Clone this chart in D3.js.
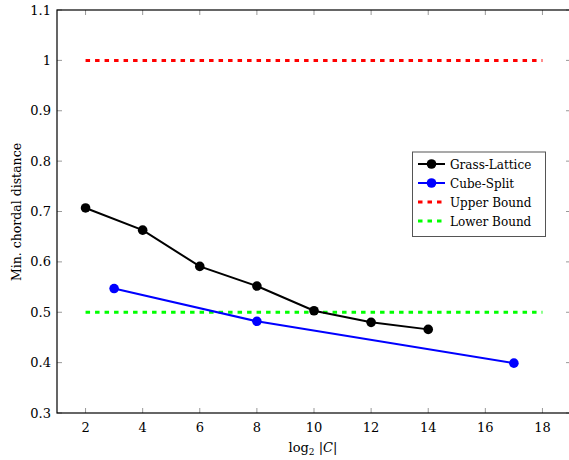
<!DOCTYPE html>
<html><head><meta charset="utf-8">
<script src="https://cdn.jsdelivr.net/npm/d3@7/dist/d3.min.js"></script>
<style>body{margin:0;background:#fff}svg{display:block}</style>
</head><body>
<svg id="c" width="569" height="460" font-family="'DejaVu Serif', serif"></svg>
<script>
const xTicks = [2,4,6,8,10,12,14,16,18];
const yTicks = [0.3,0.4,0.5,0.6,0.7,0.8,0.9,1,1.1];
const glX = [2,4,6,8,10,12,14];
const glY = [0.707,0.663,0.591,0.552,0.503,0.480,0.466];
const csX = [3,8,17];
const csY = [0.547,0.482,0.399];
const boundX = [2,18];
const upperY = [1,1];
const lowerY = [0.5,0.5];
const seriesNames = ["Grass-Lattice","Cube-Split","Upper Bound","Lower Bound"];

const svg = d3.select("#c");
const L=57, R=571, T=10, B=413;
const x = d3.scaleLinear().domain([1,19]).range([L,R]);
const y = d3.scaleLinear().domain([0.3,1.1]).range([B,T]);

const tk = svg.append("g").attr("stroke","#999").attr("stroke-width",1);
xTicks.forEach(v=>{
  tk.append("line").attr("x1",x(v)).attr("x2",x(v)).attr("y1",B).attr("y2",B-5);
  tk.append("line").attr("x1",x(v)).attr("x2",x(v)).attr("y1",T).attr("y2",T+5);
});
yTicks.forEach(v=>{
  tk.append("line").attr("x1",L).attr("x2",L+5).attr("y1",y(v)).attr("y2",y(v));
  tk.append("line").attr("x1",R).attr("x2",R-5).attr("y1",y(v)).attr("y2",y(v));
});
svg.append("rect").attr("x",L).attr("y",T).attr("width",R-L).attr("height",B-T)
  .attr("fill","none").attr("stroke","#000").attr("stroke-width",1.2);

svg.append("g").selectAll("text").data(xTicks).join("text")
  .attr("x",d=>x(d)).attr("y",B+19).attr("text-anchor","middle").attr("font-size",13).text(d=>d);
svg.append("g").selectAll("text").data(yTicks).join("text")
  .attr("x",L-6).attr("y",d=>y(d)+4.5).attr("text-anchor","end").attr("font-size",13).text(d=>d);

const xl = svg.append("text").attr("x",313).attr("y",452).attr("text-anchor","middle").attr("font-size",13);
xl.append("tspan").text("log");
xl.append("tspan").attr("font-size",9).attr("dy",3).text("2");
xl.append("tspan").attr("dy",-3).text(" |");
xl.append("tspan").attr("font-style","italic").attr("font-size",13).text("C");
xl.append("tspan").text("|");
svg.append("text").attr("transform","translate(21,212) rotate(-90)").attr("text-anchor","middle")
  .attr("font-size",12.5).text("Min. chordal distance");

const line = d3.line().x(d=>x(d[0])).y(d=>y(d[1]));
const dz = (a,b)=>a.map((v,i)=>[v,b[i]]);
const plot = svg.append("g");
plot.append("path").datum(dz(boundX,upperY)).attr("d",line).attr("fill","none").attr("stroke","#ff0000").attr("stroke-width",3).attr("stroke-dasharray","4.5,5");
plot.append("path").datum(dz(boundX,lowerY)).attr("d",line).attr("fill","none").attr("stroke","#00ff00").attr("stroke-width",3).attr("stroke-dasharray","4.5,5");
plot.append("path").datum(dz(csX,csY)).attr("d",line).attr("fill","none").attr("stroke","#0000ff").attr("stroke-width",2);
plot.selectAll(".cs").data(dz(csX,csY)).join("circle").attr("cx",d=>x(d[0])).attr("cy",d=>y(d[1])).attr("r",4.8).attr("fill","#0000ff");
plot.append("path").datum(dz(glX,glY)).attr("d",line).attr("fill","none").attr("stroke","#000").attr("stroke-width",2);
plot.selectAll(".gl").data(dz(glX,glY)).join("circle").attr("cx",d=>x(d[0])).attr("cy",d=>y(d[1])).attr("r",4.8).attr("fill","#000");

const lg = svg.append("g");
lg.append("rect").attr("x",412.5).attr("y",152).attr("width",133).attr("height",84.5).attr("fill","#fff").attr("stroke","#555").attr("stroke-width",1);
const cols = ["#000","#0000ff","#ff0000","#00ff00"];
seriesNames.forEach((n,i)=>{
  const yy = 164 + i*19;
  const ln = lg.append("line").attr("x1",418).attr("x2",445).attr("y1",yy).attr("y2",yy).attr("stroke",cols[i]);
  if(i<2){ ln.attr("stroke-width",2); lg.append("circle").attr("cx",431.5).attr("cy",yy).attr("r",4.8).attr("fill",cols[i]); }
  else { ln.attr("stroke-width",3).attr("stroke-dasharray","4.5,5"); }
  lg.append("text").attr("x",450).attr("y",yy+4.5).attr("font-size",12).text(n);
});
</script>
</body></html>
